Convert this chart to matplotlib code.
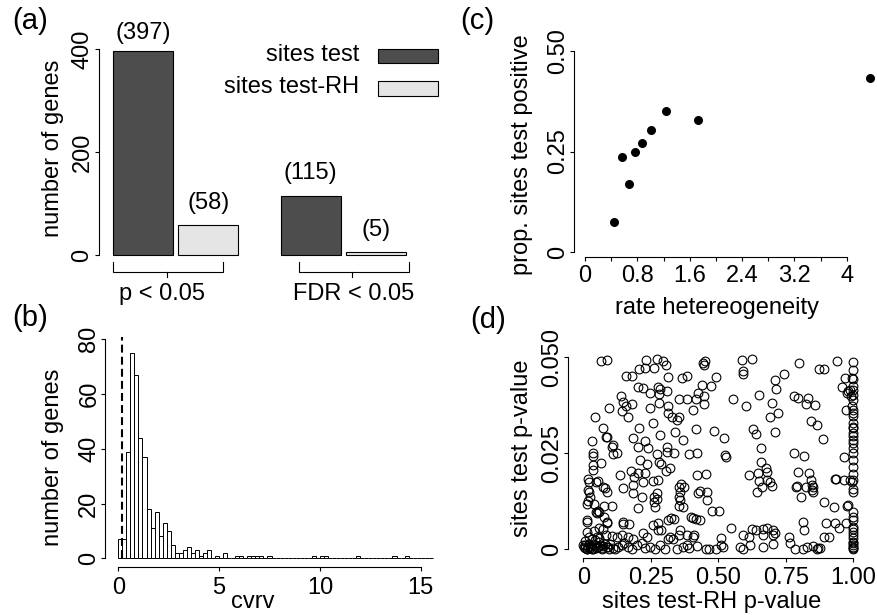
import numpy as np
import matplotlib
matplotlib.use('Agg')
import matplotlib.pyplot as plt
from matplotlib.patches import Rectangle

plt.rcParams['font.family'] = ['Liberation Sans', 'DejaVu Sans']

# ---------------- data ----------------
# (a) number of genes significant
group_labels = ['p < 0.05', 'FDR < 0.05']
series_names = ['sites test', 'sites test-RH']
sites_test = [397, 115]
sites_test_rh = [58, 5]

# (b) histogram of cvrv (bin width 0.2, starting at 0)
cvrv_bin_width = 0.2
cvrv_counts = [7, 7, 39, 75, 67, 44, 37, 18, 11, 17, 8, 13, 10, 5, 2, 2, 3, 4, 2, 3,
               1, 2, 3, 0, 1, 0, 2, 0, 0, 1, 1, 0, 1, 1, 1, 1, 0, 1, 0, 0,
               0, 0, 0, 0, 0, 0, 0, 0, 1, 0, 1, 1, 0, 0, 0, 0, 0, 0, 0, 1,
               0, 0, 0, 0, 0, 0, 0, 0, 1, 0, 0, 1, 0, 0, 0, 0, 0, 0]
cvrv_cutoff = 0.17

# (c) proportion positive vs rate heterogeneity
rate_het = [0.448, 0.571, 0.673, 0.770, 0.867, 1.014, 1.239, 1.723, 4.363]
prop_pos = [0.074, 0.237, 0.169, 0.2495, 0.270, 0.3025, 0.350, 0.327, 0.4315]

# (d) sites test-RH p-value vs sites test p-value
pval_pairs = [
    (0.065,0.0491),(0.086,0.0493),(0.232,0.0493),(0.274,0.0496),(0.296,0.0490),(0.451,0.0491),(0.444,0.0484),(0.586,0.0492),(0.623,0.0496),(0.799,0.0484),(0.941,0.0491),(1.0,0.0487),
    (0.206,0.0469),(0.228,0.0473),(0.262,0.0473),(0.306,0.0479),(0.447,0.0480),(0.874,0.0470),(0.891,0.0470),(1.0,0.0467),(0.590,0.0465),(0.593,0.0457),(0.744,0.0457),
    (0.160,0.0451),(0.179,0.0451),(0.312,0.0448),(0.367,0.0445),(0.385,0.0451),(0.490,0.0448),(0.710,0.0441),(0.969,0.0446),(0.996,0.0445),
    (0.204,0.0422),(0.222,0.0420),(0.278,0.0422),(0.284,0.0417),(0.247,0.0406),(0.311,0.0411),(0.438,0.0428),(0.472,0.0425),(0.426,0.0406),(0.714,0.0417),(0.960,0.0422),(0.988,0.0415),(1.0,0.0425),
    (0.138,0.0398),(0.281,0.0404),(0.385,0.0391),(0.416,0.0392),(0.354,0.0392),(0.448,0.0398),(0.556,0.0391),(0.652,0.0402),(0.780,0.0398),(0.796,0.0395),(0.833,0.0394),(0.981,0.0411),(0.991,0.0398),(1.0,0.0402),(0.975,0.0406),
    (0.148,0.0384),(0.160,0.0373),(0.179,0.0378),(0.247,0.0369),(0.281,0.0382),(0.312,0.0373),(0.405,0.0363),(0.447,0.0378),(0.602,0.0373),(0.698,0.0382),(0.825,0.0379),(0.859,0.0375),(0.973,0.0363),(0.994,0.0372),(1.0,0.0363),
    (0.094,0.0367),(0.142,0.0359),(0.167,0.0345),(0.314,0.0354),(0.330,0.0344),(0.354,0.0344),(0.346,0.0337),(0.691,0.0345),(0.720,0.0356),(0.843,0.0335),(1.0,0.0347),(1.0,0.0354),
    (0.043,0.0344),(0.257,0.0328),(0.207,0.0316),(0.340,0.0305),(0.416,0.0312),(0.485,0.0309),(0.630,0.0312),(0.640,0.0300),(0.710,0.0306),(0.864,0.0324),(1.0,0.0315),(0.074,0.0316),(0.084,0.0293),
    (0.031,0.0283),(0.086,0.0292),(0.111,0.0271),(0.185,0.0290),(0.228,0.0283),(0.284,0.0298),(0.370,0.0284),(0.521,0.0290),(0.886,0.0287),(1.0,0.0295),(1.0,0.0276),
    (0.105,0.0267),(0.123,0.0252),(0.111,0.0248),(0.204,0.0266),(0.241,0.0265),(0.272,0.0249),(0.309,0.0253),(0.309,0.0267),(0.336,0.0250),(0.393,0.0249),(0.420,0.0251),(0.658,0.0265),(0.819,0.0243),(0.967,0.0241),(1.0,0.0263),(1.0,0.0250),(0.781,0.0251),
    (0.037,0.0250),(0.037,0.0243),(0.065,0.0224),(0.210,0.0233),(0.235,0.0222),(0.281,0.0227),(0.288,0.0221),(0.306,0.0205),(0.528,0.0240),(0.525,0.0246),(0.660,0.0227),(0.677,0.0211),(1.0,0.0233),
    (0.037,0.0220),(0.035,0.0207),(0.136,0.0194),(0.177,0.0205),(0.204,0.0198),(0.228,0.0198),(0.277,0.0181),(0.321,0.0211),(0.422,0.0194),(0.453,0.0195),(0.614,0.0194),(0.648,0.0198),(0.681,0.0202),(0.796,0.0201),(0.835,0.0198),(0.932,0.0183),(0.988,0.0181),(0.994,0.0176),(1.0,0.0181),
    (0.019,0.0182),(0.022,0.0174),(0.046,0.0174),(0.056,0.0179),(0.080,0.0159),(0.185,0.0167),(0.222,0.0176),(0.188,0.0187),(0.257,0.0179),(0.356,0.0163),(0.362,0.0169),(0.373,0.0161),(0.652,0.0179),(0.679,0.0181),(0.786,0.0163),(0.823,0.0161),(0.842,0.0181),(0.846,0.0167),(0.849,0.0163),(0.935,0.0183),(0.967,0.0181),
    (0.019,0.0155),(0.022,0.0148),(0.025,0.0135),(0.074,0.0161),(0.086,0.0148),(0.148,0.0159),(0.183,0.0146),(0.216,0.0135),(0.262,0.0135),(0.272,0.0146),(0.358,0.0148),(0.432,0.0152),(0.426,0.0146),(0.460,0.0148),(0.457,0.0128),(0.644,0.0148),(0.663,0.0161),(0.691,0.0176),(0.698,0.0165),(0.790,0.0165),(0.805,0.0137),(0.846,0.0155),(0.852,0.0149),(1.0,0.0150),(1.0,0.0158),
    (0.016,0.0126),(0.015,0.0118),(0.040,0.0118),(0.047,0.0096),(0.059,0.0098),(0.077,0.0113),(0.105,0.0113),(0.201,0.0108),(0.263,0.0123),(0.265,0.0111),(0.272,0.0130),(0.356,0.0135),(0.358,0.0128),(0.356,0.0113),(0.370,0.0111),(0.504,0.0100),(0.930,0.0109),(0.975,0.0114),(1.0,0.0096),(0.981,0.0116),(0.891,0.0122),(0.475,0.0101),
    (0.012,0.0076),(0.012,0.0072),(0.049,0.0094),(0.056,0.0101),(0.086,0.0072),(0.089,0.0068),(0.078,0.0085),(0.148,0.0072),(0.146,0.0066),(0.170,0.0066),(0.259,0.0063),(0.278,0.0069),(0.312,0.0076),(0.325,0.0082),(0.336,0.0078),(0.405,0.0081),(0.398,0.0083),(0.417,0.0078),(0.432,0.0076),(0.547,0.0056),(0.815,0.0070),(0.899,0.0068),(0.932,0.0069),(0.947,0.0056),(0.973,0.0069),(1.0,0.0059),(1.0,0.0052),
    (0.012,0.0046),(0.031,0.0026),(0.041,0.0048),(0.049,0.0031),(0.059,0.0055),(0.074,0.0052),(0.084,0.0037),(0.107,0.0035),(0.123,0.0031),(0.142,0.0037),(0.164,0.0031),(0.183,0.0026),(0.220,0.0042),(0.235,0.0031),(0.278,0.0049),(0.288,0.0050),(0.321,0.0031),(0.358,0.0050),(0.356,0.0037),(0.385,0.0037),(0.411,0.0037),(0.405,0.0033),(0.510,0.0029),(0.590,0.0037),(0.615,0.0031),(0.623,0.0052),(0.640,0.0049),(0.664,0.0052),(0.681,0.0055),(0.704,0.0050),(0.710,0.0042),(0.667,0.0037),(0.701,0.0036),(0.763,0.0031),(0.817,0.0050),(0.891,0.0031),(0.910,0.0033),(1.0,0.0037),(1.0,0.0029),
    (0.0,0.0011),(0.006,0.0003),(0.012,0.0),(0.019,0.0007),(0.025,0.0003),(0.037,0.0),(0.047,0.0003),(0.056,0.0007),(0.068,0.0003),(0.074,0.0009),(0.086,0.0005),(0.096,0.0),(0.109,0.0003),(0.117,0.0),(0.130,0.0007),(0.142,0.0011),(0.151,0.0017),(0.164,0.0007),(0.179,0.0),(0.198,0.0011),(0.216,0.0017),(0.228,0.0003),(0.247,0.0005),(0.265,0.0),(0.284,0.0011),(0.302,0.0),(0.315,0.0026),(0.331,0.0026),(0.346,0.0),(0.370,0.0007),(0.383,0.0011),(0.393,0.0003),(0.422,0.0009),(0.454,0.0),(0.467,0.0),(0.491,0.0),(0.509,0.0011),(0.519,0.0005),(0.580,0.0007),(0.593,0.0),(0.617,0.0011),(0.667,0.0007),(0.704,0.0014),(0.765,0.0016),(0.784,0.0),(0.815,0.0),(0.827,0.0007),(0.852,0.0009),(0.867,0.0),(0.870,0.0003),(0.877,0.0003),(1.0,0.0020),(1.0,0.0011),(1.0,0.0003),(1.0,0.0),
    (0.003,0.0005),(0.008,0.0012),(0.015,0.0002),(0.022,0.0015),(0.028,0.0008),(0.033,0.0002),(0.041,0.0012),(0.050,0.0005),(0.058,0.0018),(0.063,0.0010),(0.070,0.0002),(0.080,0.0013),(0.092,0.0006),(0.100,0.0015),(0.005,0.0022),(0.045,0.0025),(0.060,0.0030),(0.020,0.0032),
    (1.0,0.0443),(1.0,0.0415),(1.0,0.0389),(1.0,0.0330),(1.0,0.0318),(1.0,0.0303),(1.0,0.0285),(1.0,0.0215),(1.0,0.0195),(1.0,0.0085),(1.0,0.0076),(1.0,0.0045),(1.0,0.0016),(1.0,0.0007),
]
rh_pvalue = [p[0] for p in pval_pairs]
st_pvalue = [p[1] for p in pval_pairs]

# ---------------- styling ----------------
DARK = '#4d4d4d'
LIGHT = '#e5e5e5'
FS = 17
PANEL_FS = 21
W, H = 878, 615

fig = plt.figure(figsize=(W / 100, H / 100), dpi=100)


def px_axes(l, r, t, b):
    return fig.add_axes([l / W, 1 - b / H, (r - l) / W, (b - t) / H])


def lin(pa, va, pb, vb, p):
    return va + (p - pa) * (vb - va) / (pb - pa)


def rstyle(ax, xpad=4.3, ypad=1.0):
    for s in ['top', 'right']:
        ax.spines[s].set_visible(False)
    for s in ['left', 'bottom']:
        ax.spines[s].set_linewidth(0.8)
    ax.tick_params(direction='out', length=2.9, width=0.8, labelsize=FS)
    ax.tick_params(axis='x', pad=xpad)
    ax.tick_params(axis='y', pad=ypad)
    ax.patch.set_alpha(0)


def rot_yticks(ax):
    for lab in ax.get_yticklabels():
        lab.set_rotation(90)
        lab.set_va('center')
        lab.set_ha('right')


def ftext(x, y, s, **kw):
    fig.text(x / W, 1 - y / H, s, **kw)


# ---------------- (a) ----------------
axa = px_axes(99.5, 445, 15, 262)
rstyle(axa, ypad=1.5)
axa.spines['bottom'].set_visible(False)
axa.tick_params(axis='x', bottom=False, labelbottom=False)
axa.set_xlim(lin(142.8, 0, 208.3, 1, 99.5), lin(142.8, 0, 208.3, 1, 445))
axa.set_ylim(lin(255, 0, 49.3, 400, 262), lin(255, 0, 49.3, 400, 15))
dark_pos = [0, 2.565]
light_pos = [1, 3.565]
bw = 0.916
axa.bar(dark_pos, sites_test, width=bw, color=DARK, edgecolor='black', linewidth=0.8)
axa.bar(light_pos, sites_test_rh, width=bw, color=LIGHT, edgecolor='black', linewidth=0.8)
for xs, vals in [(dark_pos, sites_test), (light_pos, sites_test_rh)]:
    for x, v in zip(xs, vals):
        axa.text(x, min(v + 44, 431), f'({v})', ha='center', va='center', fontsize=FS,
                 clip_on=False)
axa.set_yticks([0, 200, 400])
axa.set_yticklabels(['0', '200', '400'])
axa.spines['left'].set_bounds(0, 400)
rot_yticks(axa)
# group brackets
y_top, y_h, y_tk = -13.0, -32.5, -42.2
for (x0, x1, xc), lab, xl in [((-0.455, 1.224, 0.365), group_labels[0], 0.29),
                              ((2.385, 4.064, 3.19), group_labels[1], 3.22)]:
    axa.plot([x0, x0, x1, x1], [y_top, y_h, y_h, y_top], color='black', lw=0.8,
             clip_on=False, solid_joinstyle='miter')
    axa.plot([xc, xc], [y_h, y_tk], color='black', lw=0.8, clip_on=False)
    axa.text(xl, -87.5, lab, ha='center', va='baseline', fontsize=FS, clip_on=False)
# legend
for (y0, y1, yc), col, name in [((373, 400.2, 389), DARK, series_names[0]),
                                ((310, 338.5, 326), LIGHT, series_names[1])]:
    axa.add_patch(Rectangle((3.586, y0), 4.502 - 3.586, y1 - y0, facecolor=col,
                            edgecolor='black', lw=0.8, clip_on=False))
    axa.text(3.30, yc, name, ha='right', va='center', fontsize=FS, clip_on=False)
ftext(53, 148.3, 'number of genes', rotation=90, ha='center', va='center', fontsize=FS)

# ---------------- (b) ----------------
axb = px_axes(105, 440, 330, 566.7)
rstyle(axb, xpad=4.3, ypad=0.5)
axb.set_xlim(lin(118.3, 0, 420.7, 15, 105), lin(118.3, 0, 420.7, 15, 440))
axb.set_ylim(lin(558.3, 0, 339.3, 80, 566.7), lin(558.3, 0, 339.3, 80, 330))
edges = np.arange(len(cvrv_counts)) * cvrv_bin_width
axb.bar(edges, cvrv_counts, width=cvrv_bin_width, align='edge', facecolor='white',
        edgecolor='black', linewidth=0.7)
axb.vlines(cvrv_cutoff, 0, 80.7, colors='black', linewidth=1.5, linestyles=(0, (3.8, 2.0)))
axb.set_xticks([0, 5, 10, 15])
axb.set_xticklabels(['0', '5', '10', '15'])
axb.set_yticks([0, 20, 40, 60, 80])
axb.set_yticklabels(['0', '20', '40', '60', '80'])
axb.spines['left'].set_bounds(0, 80)
axb.spines['bottom'].set_bounds(0, 15)
rot_yticks(axb)
ftext(53, 457.5, 'number of genes', rotation=90, ha='center', va='center', fontsize=FS)
ftext(253, 608, 'cvrv', ha='center', va='baseline', fontsize=FS)

# ---------------- (c) ----------------
axc = px_axes(574, 878, 35, 256.7)
rstyle(axc, xpad=3.1, ypad=0.5)
axc.set_xlim(lin(585, 0, 846.7, 4, 574), lin(585, 0, 846.7, 4, 878))
axc.set_ylim(lin(252.3, 0, 50.7, 0.5, 256.7), lin(252.3, 0, 50.7, 0.5, 35))
axc.scatter(rate_het, prop_pos, s=30, color='black', zorder=3, clip_on=False)
xt = [0, 0.4, 0.8, 1.2, 1.6, 2.0, 2.4, 2.8, 3.2, 3.6, 4.0]
axc.set_xticks(xt)
axc.set_xticklabels(['0', '', '0.8', '', '1.6', '', '2.4', '', '3.2', '', '4'])
axc.set_yticks([0, 0.25, 0.5])
axc.set_yticklabels(['0', '0.25', '0.50'])
axc.spines['left'].set_bounds(0, 0.5)
axc.spines['bottom'].set_bounds(0, 4)
rot_yticks(axc)
ftext(521.7, 155, 'prop. sites test positive', rotation=90, ha='center', va='center', fontsize=FS)
ftext(716.7, 314, 'rate hetereogeneity', ha='center', va='baseline', fontsize=FS)

# ---------------- (d) ----------------
axd = px_axes(568.3, 870, 345, 558.3)
rstyle(axd, xpad=3.1, ypad=0.5)
axd.set_xlim(lin(583.3, 0, 853.3, 1, 568.3), lin(583.3, 0, 853.3, 1, 870))
axd.set_ylim(lin(549.3, 0, 357.3, 0.05, 558.3), lin(549.3, 0, 357.3, 0.05, 345))
axd.plot(rh_pvalue, st_pvalue, linestyle='none', marker='o', markersize=6.3,
         markerfacecolor='none', markeredgecolor='black', markeredgewidth=0.8, clip_on=False)
axd.set_xticks([0, 0.25, 0.5, 0.75, 1.0])
axd.set_xticklabels(['0', '0.25', '0.50', '0.75', '1.00'])
axd.set_yticks([0, 0.025, 0.05])
axd.set_yticklabels(['0', '0.025', '0.050'])
axd.spines['left'].set_bounds(0, 0.05)
axd.spines['bottom'].set_bounds(0, 1)
rot_yticks(axd)
ftext(521.7, 448.3, 'sites test p-value', rotation=90, ha='center', va='center', fontsize=FS)
ftext(711.7, 608, 'sites test-RH p-value', ha='center', va='baseline', fontsize=FS)

# panel labels
for (x, y), lab in [((12, 21), '(a)'), ((12, 318), '(b)'), ((460, 21), '(c)'), ((470, 320), '(d)')]:
    ftext(x, y, lab, ha='left', va='center', fontsize=PANEL_FS)

fig.savefig('out.png', dpi=100)
